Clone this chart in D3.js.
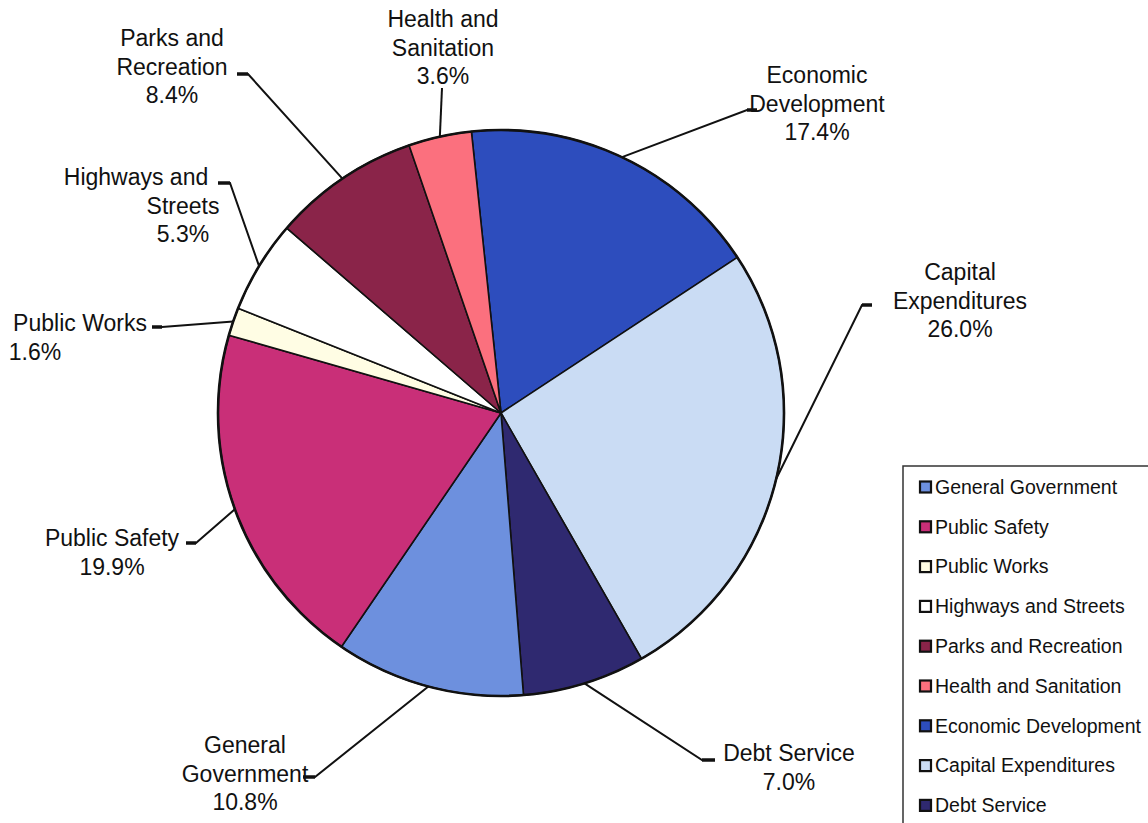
<!DOCTYPE html>
<html>
<head>
<meta charset="utf-8">
<script src="https://cdn.jsdelivr.net/npm/d3@7"></script>
<style>
  body { margin: 0; background: #fff; }
  svg text { font-family: "Liberation Sans", Arial, sans-serif; fill: #111; }
</style>
</head>
<body>
<svg id="chart"></svg>
<script>
// legend order
const categories = ["General Government", "Public Safety", "Public Works", "Highways and Streets",
  "Parks and Recreation", "Health and Sanitation", "Economic Development", "Capital Expenditures", "Debt Service"];
const shares = [10.8, 19.9, 1.6, 5.3, 8.4, 3.6, 17.4, 26.0, 7.0];
const colors = ["#6d90de", "#c92f78", "#fffde4", "#ffffff", "#8a2449", "#fb707e", "#2d4dbd", "#cadcf4", "#2f2970"];

// order of the slices, clockwise from the top
const sliceOrder = ["Economic Development", "Capital Expenditures", "Debt Service", "General Government",
  "Public Safety", "Public Works", "Highways and Streets", "Parks and Recreation", "Health and Sanitation"];

// wrapped label text
const labelLines = {
  "General Government": ["General", "Government"],
  "Public Safety": ["Public Safety"],
  "Public Works": ["Public Works"],
  "Highways and Streets": ["Highways and", "Streets"],
  "Parks and Recreation": ["Parks and", "Recreation"],
  "Health and Sanitation": ["Health and", "Sanitation"],
  "Economic Development": ["Economic", "Development"],
  "Capital Expenditures": ["Capital", "Expenditures"],
  "Debt Service": ["Debt Service"]
};

// label placement: x of each line, y of first line, leader points (text side)
const labelLayout = {
  "General Government": {x: [245, 245, 245], y: 745, lead: [[303, 777], [315, 777]]},
  "Public Safety": {x: [112, 112], y: 538, lead: [[186, 543], [196, 543]]},
  "Public Works": {x: [80, 35], y: 323, lead: [[152, 327], [162, 327]]},
  "Highways and Streets": {x: [136, 183, 183], y: 177, lead: [[218, 183], [230, 183]]},
  "Parks and Recreation": {x: [172, 172, 172], y: 38, lead: [[237, 74], [248, 74]]},
  "Health and Sanitation": {x: [443, 443, 443], y: 19, lead: [[442, 88]]},
  "Economic Development": {x: [817, 817, 817], y: 75, lead: [[757, 110], [747, 110]]},
  "Capital Expenditures": {x: [960, 960, 960], y: 272, lead: [[872, 305], [862, 305]]},
  "Debt Service": {x: [789, 789], y: 753, lead: [[715, 760], [702, 760]]}
};

class PieChart {
  constructor(_config) {
    this.config = {
      parentElement: _config.parentElement,
      containerWidth: 1148,
      containerHeight: 823,
      cx: 501, cy: 413, radius: 283,
      rotation: -6 // degrees
    };
    this.data = sliceOrder.map(name => {
      const i = categories.indexOf(name);
      return {name: name, value: shares[i], color: colors[i]};
    });
    this.initVis();
  }

  initVis() {
    let vis = this;
    vis.svg = d3.select(vis.config.parentElement)
        .attr('width', vis.config.containerWidth)
        .attr('height', vis.config.containerHeight);

    const start = vis.config.rotation * Math.PI / 180;
    vis.pie = d3.pie()
        .sort(null)
        .value(d => d.value)
        .startAngle(start)
        .endAngle(start + 2 * Math.PI);

    vis.arc = d3.arc()
        .innerRadius(0)
        .outerRadius(vis.config.radius);

    vis.chart = vis.svg.append('g')
        .attr('transform', `translate(${vis.config.cx},${vis.config.cy})`);

    vis.renderVis();
    vis.renderLabels();
    vis.renderLegend();
  }

  renderVis() {
    let vis = this;
    vis.arcs = vis.pie(vis.data);

    vis.chart.selectAll('.slice')
        .data(vis.arcs)
      .join('path')
        .attr('class', 'slice')
        .attr('d', vis.arc)
        .attr('fill', d => d.data.color)
        .attr('stroke', '#111')
        .attr('stroke-width', 1.6)
        .attr('stroke-linejoin', 'round');

    // darker rim
    vis.chart.append('circle')
        .attr('r', vis.config.radius)
        .attr('fill', 'none')
        .attr('stroke', '#111')
        .attr('stroke-width', 2.6);
  }

  renderLabels() {
    let vis = this;
    const r = vis.config.radius;
    const line = d3.line();

    vis.arcs.forEach(d => {
      const lay = labelLayout[d.data.name];
      const mid = (d.startAngle + d.endAngle) / 2;
      const rim = [vis.config.cx + r * Math.sin(mid), vis.config.cy - r * Math.cos(mid)];
      const pts = [rim].concat(lay.lead.slice().reverse());

      vis.svg.append('path')
          .attr('d', line(pts))
          .attr('fill', 'none')
          .attr('stroke', '#111')
          .attr('stroke-width', 2);
      if (lay.lead.length > 1) {
        vis.svg.append('path')
            .attr('d', line(lay.lead))
            .attr('stroke', '#111')
            .attr('stroke-width', 3.5);
      }

      const lines = labelLines[d.data.name].concat([d.data.value.toFixed(1) + '%']);
      vis.svg.append('g').selectAll('text')
          .data(lines)
        .join('text')
          .attr('x', (t, i) => lay.x[i])
          .attr('y', (t, i) => lay.y + i * 28.5)
          .attr('dy', '0.35em')
          .attr('text-anchor', 'middle')
          .attr('font-size', 23)
          .text(t => t);
    });
  }

  renderLegend() {
    let vis = this;
    const legend = vis.svg.append('g').attr('transform', 'translate(903,466)');

    legend.append('rect')
        .attr('x', 0).attr('y', 0)
        .attr('width', 260).attr('height', 380)
        .attr('fill', '#fff')
        .attr('stroke', '#333')
        .attr('stroke-width', 1.5);

    const item = legend.selectAll('.item')
        .data(categories)
      .join('g')
        .attr('class', 'item')
        .attr('transform', (d, i) => `translate(0,${21 + i * 39.8})`);

    item.append('rect')
        .attr('x', 17).attr('y', -5.5)
        .attr('width', 11).attr('height', 11)
        .attr('fill', (d, i) => colors[i])
        .attr('stroke', '#111')
        .attr('stroke-width', 2.2);

    item.append('text')
        .attr('x', 32)
        .attr('dy', '0.35em')
        .attr('font-size', 19.5)
        .text(d => d);
  }
}

new PieChart({parentElement: '#chart'});
</script>
</body>
</html>
